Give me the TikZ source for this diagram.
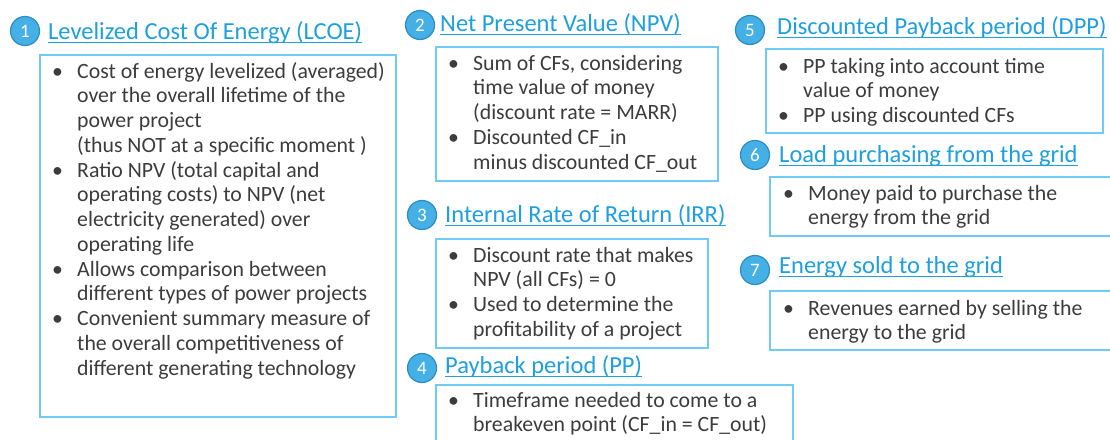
\documentclass[tikz,border=0pt]{standalone}
\usepackage{fontspec}
\setmainfont{Carlito}
\usepackage{array}
\definecolor{ttl}{HTML}{1E9FDF}
\definecolor{circfill}{HTML}{45B0E5}
\definecolor{circline}{HTML}{2C8CC4}
\definecolor{boxline}{HTML}{6DCBF5}
\definecolor{bodytxt}{HTML}{3C3C3C}
\newcommand{\blist}[1]{\begin{tabular}[t]{@{}p{25pt}@{}l@{}}#1\end{tabular}}
\tikzset{
  numcirc/.style={circle, fill=circfill, draw=circline, line width=1.2pt, minimum size=29pt, inner sep=0pt, text=white, font=\fontsize{19}{21}\selectfont},
  ttlnode/.style={anchor=base west, inner sep=0pt, text=ttl, font=\fontsize{24.5}{28}\selectfont},
  uline/.style={draw=ttl, line width=1pt},
  infobox/.style={draw=boxline, line width=1.5pt},
  bodynode/.style={anchor=base west, inner sep=0pt, text=bodytxt, font=\fontsize{21.8}{24.75}\selectfont},
}
\begin{document}
\begin{tikzpicture}[x=1pt,y=-1pt]
\useasboundingbox (0,0) rectangle (1110,439);
% boxes
\draw[infobox] (40,55) rectangle (396,417);
\draw[infobox] (436,47) rectangle (718,181);
\draw[infobox] (436,239) rectangle (708,348);
\draw[infobox] (436,385) rectangle (793,460);
\draw[infobox] (766,49) rectangle (1103,133);
\draw[infobox] (770,177) rectangle (1120,236);
\draw[infobox] (770,291) rectangle (1120,350);
% circles
\node[numcirc] (c1) at (25,31) {1};
\node[numcirc] (c2) at (420,25) {2};
\node[numcirc] (c3) at (422,215) {3};
\node[numcirc] (c4) at (422,368) {4};
\node[numcirc] (c5) at (750,30) {5};
\node[numcirc] (c6) at (755,155) {6};
\node[numcirc] (c7) at (755,270) {7};
% titles
\node[ttlnode] (t1) at (48,39) {Levelized Cost Of Energy (LCOE)};
\node[ttlnode] (t2) at (440,31) {Net Present Value (NPV)};
\node[ttlnode] (t3) at (445,222) {Internal Rate of Return (IRR)};
\node[ttlnode] (t4) at (445,373) {Payback period (PP)};
\node[ttlnode] (t5) at (777,34) {Discounted Payback period (DPP)};
\node[ttlnode] (t6) at (779,162) {Load purchasing from the grid};
\node[ttlnode] (t7) at (779,273) {Energy sold to the grid};
\foreach \t in {t1,t2,t3,t4,t5,t6,t7}{
  \draw[uline] ([yshift=-3pt]\t.base west) -- ([yshift=-3pt]\t.base east);
}
% bodies
\node[bodynode] (b1) at (52,78) {\blist{%
\textbullet & Cost of energy levelized (averaged)\\
 & over the overall lifetime of the\\
 & power project\\
 & (thus NOT at a specific moment )\\
\textbullet & Ratio NPV (total capital and\\
 & operating costs) to NPV (net\\
 & electricity generated) over\\
 & operating life\\
\textbullet & Allows comparison between\\
 & different types of power projects\\
\textbullet & Convenient summary measure of\\
 & the overall competitiveness of\\
 & different generating technology}};
\node[bodynode] (b2) at (448,70) {\blist{%
\textbullet & Sum of CFs, considering\\
 & time value of money\\
 & (discount rate = MARR)\\
\textbullet & Discounted CF\_in\\
 & minus discounted CF\_out}};
\node[bodynode] (b3) at (448,262) {\blist{%
\textbullet & Discount rate that makes\\
 & NPV (all CFs) = 0\\
\textbullet & Used to determine the\\
 & profitability of a project}};
\node[bodynode] (b4) at (448,407) {\blist{%
\textbullet & Timeframe needed to come to a\\
 & breakeven point (CF\_in = CF\_out)}};
\node[bodynode] (b5) at (778,73) {\blist{%
\textbullet & PP taking into account time\\
 & value of money\\
\textbullet & PP using discounted CFs}};
\node[bodynode] (b6) at (783,200) {\blist{%
\textbullet & Money paid to purchase the\\
 & energy from the grid}};
\node[bodynode] (b7) at (783,315) {\blist{%
\textbullet & Revenues earned by selling the\\
 & energy to the grid}};
\end{tikzpicture}
\end{document}
